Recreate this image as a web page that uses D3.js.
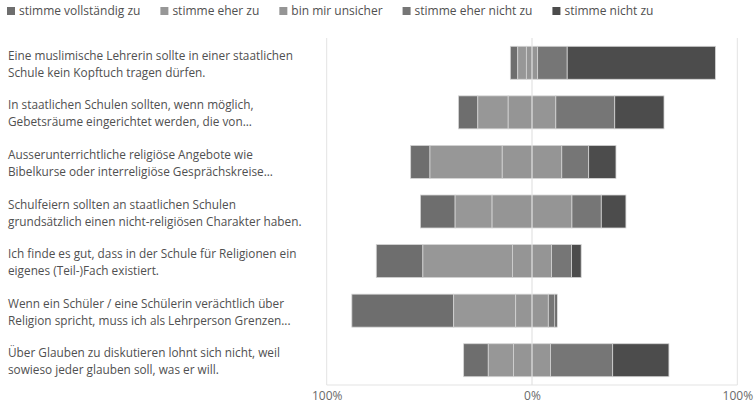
<!DOCTYPE html>
<html><head><meta charset="utf-8">
<script src="https://cdn.jsdelivr.net/npm/d3@7"></script>
<style>body{margin:0;background:#fff;} text{font-family:"Segoe UI","Open Sans","Noto Sans",sans-serif;}</style>
</head><body>
<svg id="chart" width="754" height="406"></svg>
<script>
const categories = [
  ["Eine muslimische Lehrerin sollte in einer staatlichen", "Schule kein Kopftuch tragen dürfen."],
  ["In staatlichen Schulen sollten, wenn möglich,", "Gebetsräume eingerichtet werden, die von..."],
  ["Ausserunterrichtliche religiöse Angebote wie", "Bibelkurse oder interreligiöse Gesprächskreise..."],
  ["Schulfeiern sollten an staatlichen Schulen", "grundsätzlich einen nicht-religiösen Charakter haben."],
  ["Ich finde es gut, dass in der Schule für Religionen ein", "eigenes (Teil-)Fach existiert."],
  ["Wenn ein Schüler / eine Schülerin verächtlich über", "Religion spricht, muss ich als Lehrperson Grenzen..."],
  ["Über Glauben zu diskutieren lohnt sich nicht, weil", "sowieso jeder glauben soll, was er will."]
];
const seriesNames = ["stimme vollständig zu", "stimme eher zu", "bin mir unsicher", "stimme eher nicht zu", "stimme nicht zu"];
const stimmeVollstaendigZu = [3.6, 9.4, 9.4, 16.9, 22.7, 49.6, 12.0];
const stimmeEherZu        = [4.2, 14.8, 35.2, 18.0, 43.6, 30.2, 12.3];
const binMirUnsicher      = [5.5, 23.2, 29.0, 38.9, 19.1, 15.9, 18.0];
const stimmeEherNichtZu   = [14.4, 28.7, 13.1, 14.3, 9.7, 3.2, 30.3];
const stimmeNichtZu       = [72.2, 24.0, 13.3, 12.0, 4.7, 1.1, 27.4];
const tickValues = [-100, 0, 100];
const tickLabels = ["100%", "0%", "100%"];
const colors = ["#6e6e6e", "#979797", "#959595", "#767676", "#4c4c4c"];

const series = [stimmeVollstaendigZu, stimmeEherZu, binMirUnsicher, stimmeEherNichtZu, stimmeNichtZu];
const svg = d3.select("#chart");
const plotTop = 38, plotBottom = 385;
const x = d3.scaleLinear().domain([-100, 100]).range([326.7, 737.3]);
const y = d3.scaleBand().domain(d3.range(categories.length)).range([plotTop, plotBottom]).paddingInner(0.335).paddingOuter(0.1675);

// gridlines
svg.append("g").selectAll("line").data(tickValues.filter(v => v !== 0)).join("line")
  .attr("x1", d => x(d)).attr("x2", d => x(d)).attr("y1", plotTop).attr("y2", plotBottom)
  .attr("stroke", "#e3e3e3").attr("stroke-width", 1);
svg.append("line").attr("x1", x(-100)).attr("x2", x(100)).attr("y1", plotBottom).attr("y2", plotBottom)
  .attr("stroke", "#e3e3e3");

// bars
const rows = categories.map((c, i) => {
  let start = -(series[0][i] + series[1][i] + series[2][i] / 2);
  return series.map((s, k) => { const seg = {row: i, k, x0: start, x1: start + s[i]}; start += s[i]; return seg; });
}).flat();
svg.append("g").selectAll("rect").data(rows).join("rect")
  .attr("x", d => x(d.x0)).attr("width", d => x(d.x1) - x(d.x0))
  .attr("y", d => y(d.row)).attr("height", y.bandwidth())
  .attr("fill", d => colors[d.k]).attr("stroke", "#d4d4d4").attr("stroke-width", 0.8);

// zero line on top
svg.append("line").attr("x1", x(0)).attr("x2", x(0)).attr("y1", plotTop).attr("y2", plotBottom)
  .attr("stroke", "#e3e3e3").attr("stroke-width", 1.2);

// axis labels
const axis = d3.axisBottom(x).tickValues(tickValues).tickFormat((d, i) => tickLabels[i]).tickSize(0).tickPadding(6);
const ag = svg.append("g").attr("transform", `translate(0,${plotBottom})`).call(axis);
ag.select(".domain").remove();
ag.selectAll("text").attr("font-size", 12).attr("fill", "#6a6a6a").attr("font-family", '"Segoe UI","Open Sans","Noto Sans",sans-serif');

// category labels
const lab = svg.append("g").selectAll("text").data(categories).join("text")
  .attr("x", 8).attr("font-size", 11.8).attr("fill", "#505050");
lab.each(function(d, i) {
  const c = y(i) + y.bandwidth() / 2;
  d3.select(this).selectAll("tspan").data(d).join("tspan")
    .attr("x", 8).attr("y", (t, j) => c - 3 + j * 17).text(t => t);
});

// legend
const lg = svg.append("g");
let lx = 7;
seriesNames.forEach((n, k) => {
  lg.append("rect").attr("x", lx).attr("y", 7).attr("width", 8).attr("height", 8).attr("fill", colors[k]);
  const t = lg.append("text").attr("x", lx + 12).attr("y", 15).attr("font-size", 12).attr("fill", "#505050").text(n);
  lx += 12 + t.node().getComputedTextLength() + 20;
});
</script>
</body></html>
